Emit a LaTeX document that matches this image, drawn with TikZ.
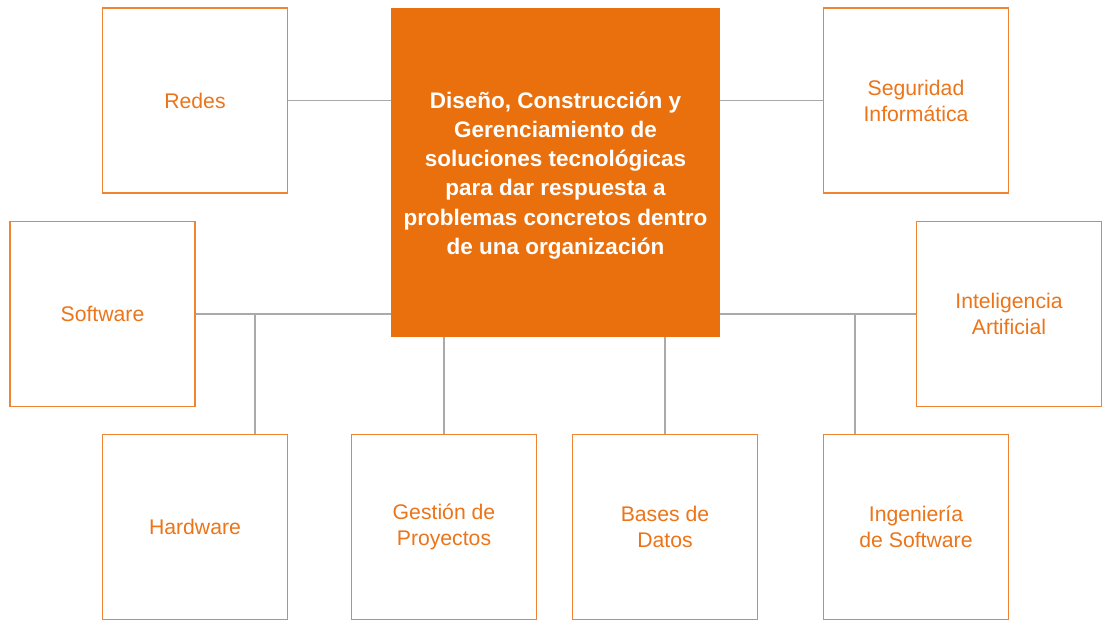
\documentclass[tikz,border=0pt]{standalone}
\usepackage{fontspec}
\setmainfont{Liberation Sans}
\definecolor{orfill}{HTML}{EA700E}
\definecolor{ortext}{HTML}{EC7419}
\definecolor{orline}{HTML}{EF8532}
\definecolor{conngray}{HTML}{AAAAAA}
\begin{document}
\begin{tikzpicture}[x=1pt,y=-1pt,
  box/.style={draw=orline, line width=1.4pt, fill=white, minimum width=185pt, minimum height=185pt,
    inner sep=0pt, align=center, text=ortext, font=\fontsize{21.2}{26}\selectfont},
  mainbox/.style={fill=orfill, minimum width=329pt, minimum height=329pt, inner sep=0pt,
    align=center, text=white, font=\bfseries\fontsize{22.5}{29.2}\selectfont},
  conn/.style={draw=conngray, line width=1.2pt}]
\useasboundingbox (0,0) rectangle (1106,620);
\node[mainbox] (center) at (555.5,172.5) {};
\node[align=center, text=white, font=\bfseries\fontsize{22.5}{29.2}\selectfont, inner sep=0pt] (ctext) at (555.5,175.5) {Diseño, Construcción y\\Gerenciamiento de\\soluciones tecnológicas\\para dar respuesta a\\problemas concretos dentro\\de una organización};
\node[box] (redes) at (195,100.5) {Redes};
\node[box] (seg) at (916,100.5) {Seguridad\\Informática};
\node[box] (soft) at (102.5,314) {Software};
\node[box] (ia) at (1009,314) {Inteligencia\\Artificial};
\node[box] (hw) at (195,527) {Hardware};
\node[box] (gest) at (444,527) {Gestión de\\Proyectos};
\node[box] (bd) at (665,527) {Bases de\\Datos};
\node[box] (ing) at (916,527) {Ingeniería\\de Software};
\coordinate (lj) at (255,314);
\coordinate (rj) at (855,314);
\draw[conn] (redes.east) -- (redes.east -| center.west);
\draw[conn] (seg.west) -- (seg.west -| center.east);
\draw[conn] (soft.east) -- (soft.east -| center.west);
\draw[conn] (ia.west) -- (ia.west -| center.east);
\draw[conn] (lj) -- (lj |- hw.north);
\draw[conn] (rj) -- (rj |- ing.north);
\draw[conn] (gest.north) -- (gest.north |- center.south);
\draw[conn] (bd.north) -- (bd.north |- center.south);
\end{tikzpicture}
\end{document}
